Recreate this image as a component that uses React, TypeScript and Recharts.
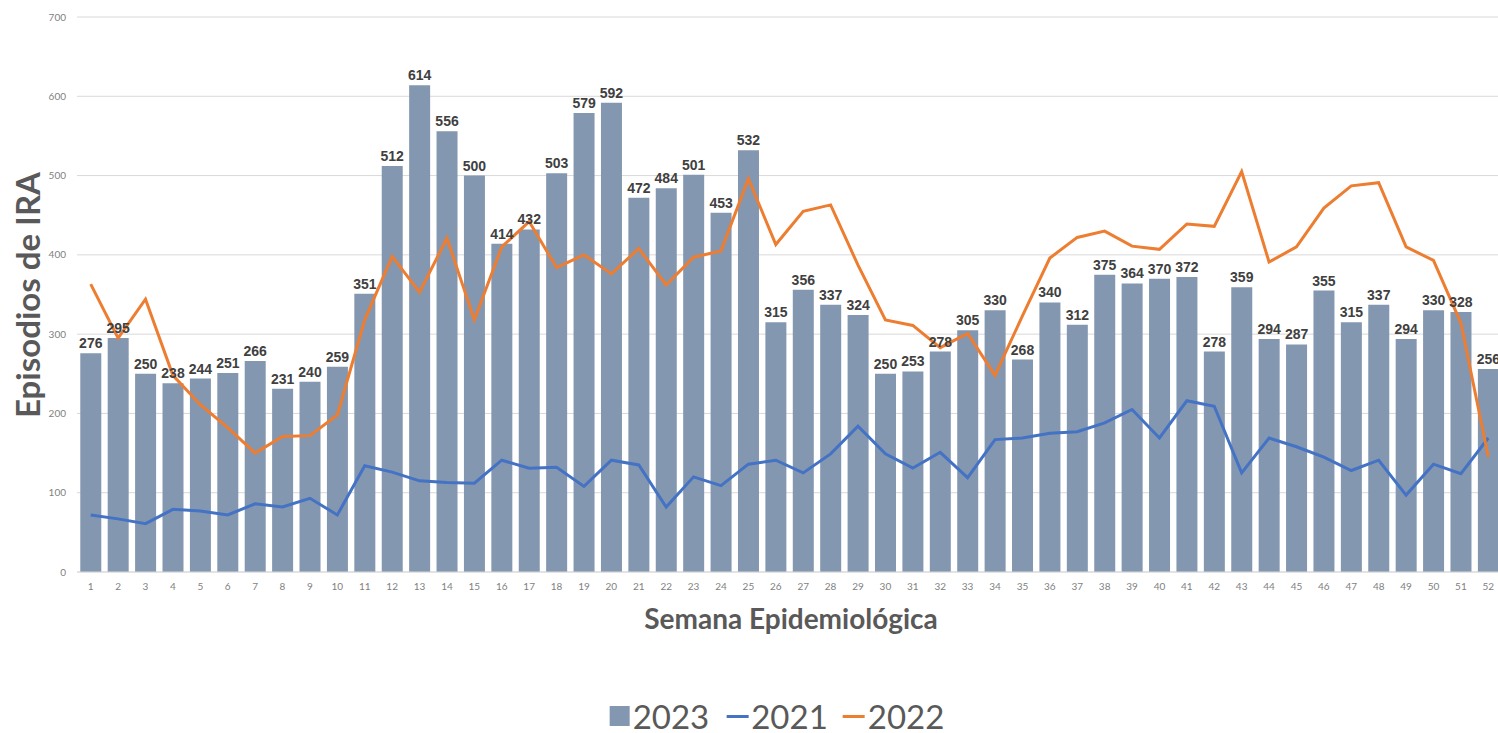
import React from "react";
import { Bar, CartesianGrid, ComposedChart, LabelList, Line, XAxis, YAxis } from "recharts";

const weeks = [
  "1", "2", "3", "4", "5", "6", "7", "8", "9", "10", "11", "12", "13",
  "14", "15", "16", "17", "18", "19", "20", "21", "22", "23", "24", "25", "26",
  "27", "28", "29", "30", "31", "32", "33", "34", "35", "36", "37", "38", "39",
  "40", "41", "42", "43", "44", "45", "46", "47", "48", "49", "50", "51", "52",
];

const cases2023 = [
  276, 295, 250, 238, 244, 251, 266, 231, 240, 259, 351, 512, 614,
  556, 500, 414, 432, 503, 579, 592, 472, 484, 501, 453, 532, 315,
  356, 337, 324, 250, 253, 278, 305, 330, 268, 340, 312, 375, 364,
  370, 372, 278, 359, 294, 287, 355, 315, 337, 294, 330, 328, 256,
];

const cases2021 = [
  72, 67, 61, 79, 77, 72, 86, 82, 93, 72, 134, 126, 115,
  113, 112, 141, 131, 132, 108, 141, 135, 82, 120, 109, 136, 141,
  125, 149, 184, 149, 131, 151, 119, 167, 169, 175, 177, 188, 205,
  169, 216, 209, 125, 169, 158, 145, 128, 141, 97, 136, 124, 169,
];

const cases2022 = [
  363, 295, 344, 248, 211, 182, 150, 171, 172, 198, 318, 398, 353,
  421, 318, 410, 442, 384, 400, 376, 408, 362, 397, 405, 496, 413,
  455, 463, 387, 318, 311, 283, 301, 248, 323, 396, 422, 430, 411,
  407, 439, 436, 505, 391, 410, 459, 487, 491, 410, 393, 314, 145,
];

const yTicks = [0, 100, 200, 300, 400, 500, 600, 700];

const data = weeks.map((w, i) => ({
  week: w,
  y2023: cases2023[i],
  y2021: cases2021[i],
  y2022: cases2022[i],
}));

const BAR = "#8497B0";
const BLUE = "#4472C4";
const ORANGE = "#ED7D31";
const TEXT = "#595959";

export default function App() {
  return (
    <div
      style={{
        position: "absolute",
        left: 0,
        top: 0,
        width: 1498,
        height: 733,
        overflow: "hidden",
        background: "#ffffff",
        fontFamily: "Lato, sans-serif",
      }}
    >
      <ComposedChart
        width={1520}
        height={733}
        data={data}
        margin={{ top: 17, right: 18, left: 0, bottom: 0 }}
        barCategoryGap="12%"
      >
        <CartesianGrid vertical={false} stroke="#d9d9d9" />
        <XAxis
          dataKey="week"
          interval={0}
          height={161}
          tickLine={false}
          axisLine={{ stroke: "#d9d9d9" }}
          tickMargin={5}
          tick={{ fontSize: 10, fill: "#7f7f7f", fontFamily: "Lato" }}
        />
        <YAxis
          width={77}
          domain={[0, 700]}
          ticks={yTicks}
          tickLine={false}
          axisLine={false}
          tickMargin={5}
          tick={{ fontSize: 10, fill: "#7f7f7f", fontFamily: "Lato" }}
        />
        <Bar dataKey="y2023" fill={BAR} isAnimationActive={false}>
          <LabelList
            dataKey="y2023"
            position="top"
            offset={5}
            style={{
              fontSize: 14,
              fontWeight: "bold",
              fill: "#404040",
              fontFamily: "'Liberation Sans Narrow', 'Arial Narrow', sans-serif",
            }}
          />
        </Bar>
        <Line dataKey="y2021" stroke={BLUE} strokeWidth={3} dot={false} isAnimationActive={false} />
        <Line dataKey="y2022" stroke={ORANGE} strokeWidth={3} dot={false} isAnimationActive={false} />
      </ComposedChart>

      <div
        style={{
          position: "absolute",
          left: 27,
          top: 295,
          transform: "translate(-50%, -50%) rotate(-90deg)",
          whiteSpace: "nowrap",
          fontSize: 33,
          fontWeight: "bold",
          color: TEXT,
        }}
      >
        Episodios de IRA
      </div>

      <div
        style={{
          position: "absolute",
          left: 791,
          top: 618,
          transform: "translate(-50%, -50%)",
          whiteSpace: "nowrap",
          fontSize: 28,
          fontWeight: "bold",
          color: TEXT,
        }}
      >
        Semana Epidemiológica
      </div>

      <div
        style={{
          position: "absolute",
          left: 777,
          top: 716,
          transform: "translate(-50%, -50%)",
          display: "flex",
          alignItems: "center",
          whiteSpace: "nowrap",
          fontSize: 33,
          lineHeight: "34px",
          color: TEXT,
        }}
      >
        <span style={{ display: "inline-block", width: 20, height: 20, background: BAR, marginRight: 3 }} />
        <span>2023</span>
        <span style={{ display: "inline-block", width: 22, height: 3, background: BLUE, margin: "0 3px 0 17px" }} />
        <span>2021</span>
        <span style={{ display: "inline-block", width: 22, height: 3, background: ORANGE, margin: "0 3px 0 15px" }} />
        <span>2022</span>
      </div>
    </div>
  );
}
